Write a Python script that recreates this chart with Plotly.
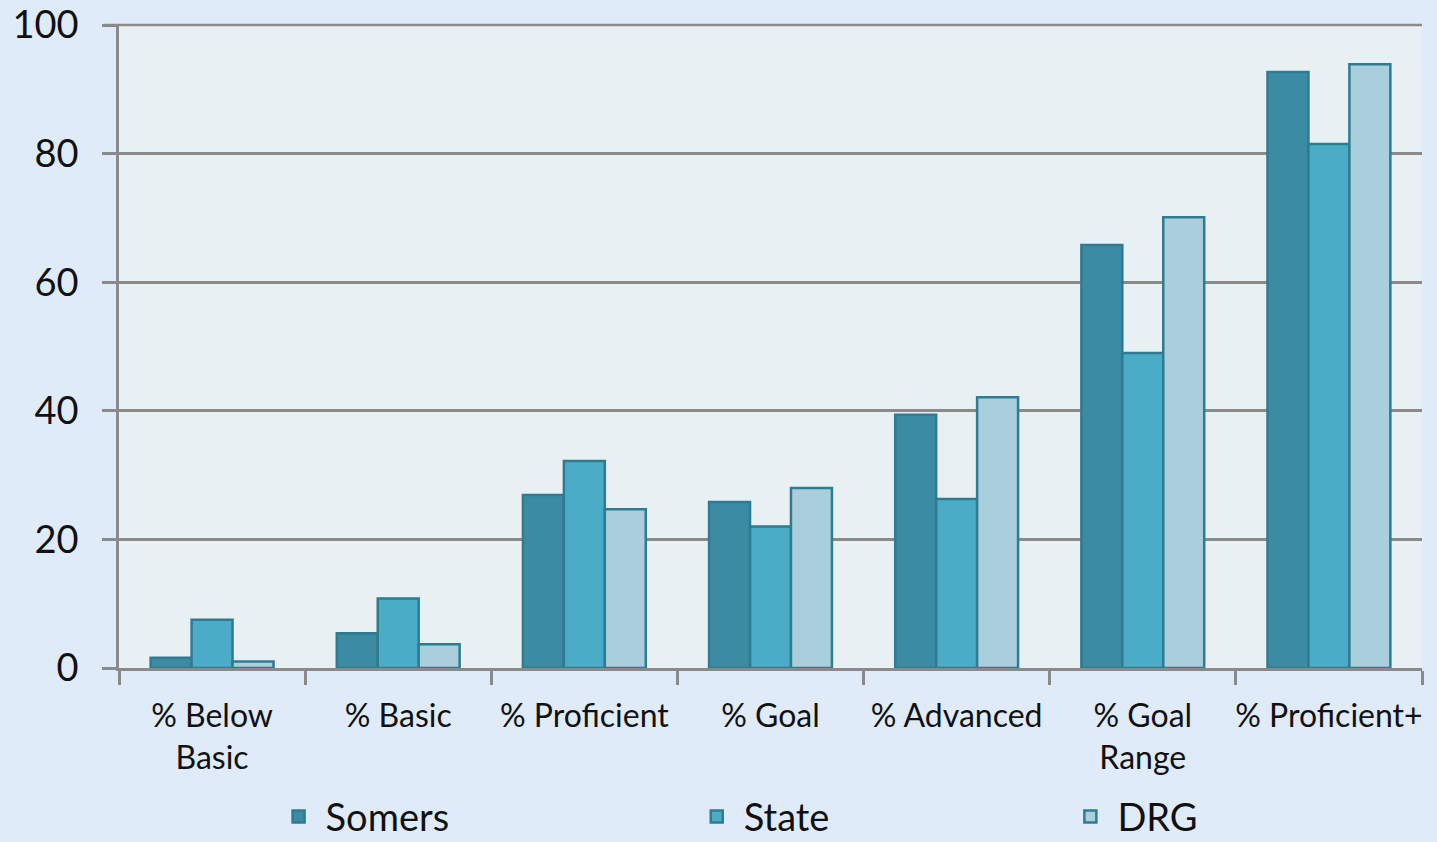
import plotly.graph_objects as go

categories = ["% Below<br>Basic", "% Basic", "% Proficient", "% Goal", "% Advanced", "% Goal<br>Range", "% Proficient+"]
somers = [1.6, 5.4, 26.9, 25.8, 39.4, 65.8, 92.7]
state = [7.5, 10.8, 32.2, 22.0, 26.3, 49.0, 81.5]
drg = [1.0, 3.7, 24.7, 28.0, 42.1, 70.1, 93.9]

series = [("Somers", somers, "#3b8ba3"), ("State", state, "#4aacc6"), ("DRG", drg, "#a9cfdd")]
legend_ids = ["legend", "legend2", "legend3"]
legend_x = [0.189, 0.480, 0.740]

fig = go.Figure()
for (name, vals, color), lg in zip(series, legend_ids):
    fig.add_trace(go.Bar(
        x=categories, y=vals, name=name, legend=lg, showlegend=True,
        marker=dict(color=color, line=dict(color="#2f7b91", width=2.5)),
    ))

legend_style = dict(orientation="h", xref="container", yref="container",
                    yanchor="middle", y=0.03, xanchor="left",
                    font=dict(size=38), bgcolor="rgba(0,0,0,0)", itemwidth=44)

fig.update_layout(
    width=1437, height=842,
    showlegend=True,
    margin=dict(l=119, r=15, t=25, b=174, autoexpand=False),
    barmode="group", bargap=0.34, bargroupgap=0,
    paper_bgcolor="#e0ebfa",
    plot_bgcolor="#e8f0f4",
    font=dict(family="Lato, Open Sans, sans-serif", color="#111"),
    legend=dict(x=legend_x[0], **legend_style),
    legend2=dict(x=legend_x[1], **legend_style),
    legend3=dict(x=legend_x[2], **legend_style),
)
fig.update_yaxes(
    range=[0, 100], dtick=20, showgrid=True, gridcolor="#8a8a8a", gridwidth=2.5,
    showline=True, linecolor="#8a8a8a", linewidth=2.5,
    ticks="outside", ticklen=14, tickcolor="#8a8a8a", tickwidth=2.5,
    tickfont=dict(size=38), ticklabelstandoff=16, zeroline=False,
)
fig.update_xaxes(
    showline=True, linecolor="#8a8a8a", linewidth=2.5,
    ticks="outside", tickson="boundaries", ticklen=14, tickcolor="#8a8a8a", tickwidth=2.5,
    tickfont=dict(size=32), tickangle=0, ticklabelstandoff=18,
)
fig.add_shape(type="line", xref="paper", yref="paper", x0=-0.011, x1=1, y0=1, y1=1,
              line=dict(color="#8a8a8a", width=2.5))

fig.write_html("out.html", config={"displayModeBar": False},
               post_script="document.body.style.margin='0';document.body.style.overflow='hidden';")
